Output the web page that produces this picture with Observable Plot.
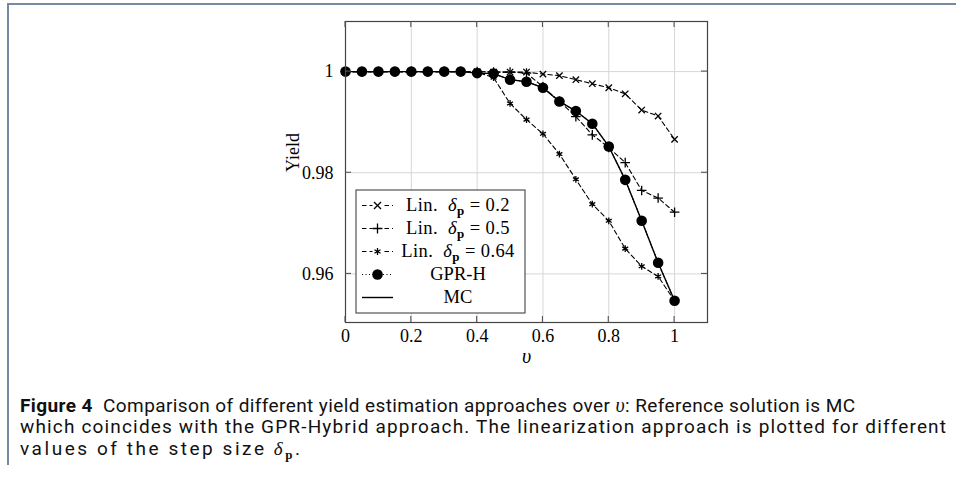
<!DOCTYPE html>
<html>
<head>
<meta charset="utf-8">
<script src="https://cdn.jsdelivr.net/npm/d3@7"></script>
<script src="https://cdn.jsdelivr.net/npm/@observablehq/plot@0.6"></script>
<style>
  html, body { margin: 0; padding: 0; background: #fff; width: 956px; height: 493px; overflow: hidden; }
  #border { position: absolute; left: 7px; top: 3px; width: 960px; height: 460px;
            border-top: 2px solid #7589a3; border-left: 2px solid #7589a3; }
  #chart { position: absolute; left: 0; top: 0; }
  #caption { position: absolute; left: 0; top: 380px; }
</style>
</head>
<body>
<div id="border"></div>
<div id="chart"></div>
<svg id="caption" width="956" height="100"></svg>
<script>
const v      = [0, 0.05, 0.1, 0.15, 0.2, 0.25, 0.3, 0.35, 0.4, 0.45, 0.5, 0.55, 0.6, 0.65, 0.7, 0.75, 0.8, 0.85, 0.9, 0.95, 1.0];
const lin02  = [1, 1, 1, 1, 1, 1, 1, 1, 1, 0.9999, 0.9999, 0.9999, 0.9995, 0.9992, 0.9984, 0.9976, 0.9968, 0.9956, 0.9924, 0.9912, 0.9866];
const lin05  = [1, 1, 1, 1, 1, 1, 1, 1, 1, 0.9999, 0.9999, 0.9997, 0.9970, 0.9941, 0.9911, 0.9875, 0.9850, 0.9820, 0.9765, 0.9750, 0.9722];
const lin064 = [1, 1, 1, 1, 1, 1, 1, 1, 0.9999, 0.9988, 0.9937, 0.9905, 0.9877, 0.9837, 0.9787, 0.9738, 0.9705, 0.9650, 0.9615, 0.9595, 0.9547];
const gprH   = [1, 1, 1, 1, 1, 1, 1, 1, 0.9997, 0.9996, 0.9984, 0.9980, 0.9968, 0.9941, 0.9922, 0.9897, 0.9852, 0.9786, 0.9705, 0.9622, 0.9547];
const mc     = [1, 1, 1, 1, 1, 1, 1, 1, 0.9997, 0.9996, 0.9984, 0.9980, 0.9968, 0.9941, 0.9922, 0.9897, 0.9852, 0.9786, 0.9705, 0.9622, 0.9547];
const xTicks = [0, 0.2, 0.4, 0.6, 0.8, 1];
const yTicks = [0.96, 0.98, 1];
const xTickLabels = ["0", "0.2", "0.4", "0.6", "0.8", "1"];
const yTickLabels = ["0.96", "0.98", "1"];
const legendLabels = ["0.2", "0.5", "0.64"];

const rows = (ys) => v.map((x, i) => ({x, y: ys[i]}));
const xDom = [0, 1.1], yDom = [0.9504, 1.0099];

const dash = "4.5,3";
const plot = Plot.plot({
  width: 956, height: 380,
  marginLeft: 345, marginRight: 249, marginTop: 21, marginBottom: 58,
  x: {domain: xDom},
  y: {domain: yDom},
  style: {fontFamily: "Liberation Serif, serif", fontSize: "18px", color: "#000", background: "transparent"},
  marks: [
    Plot.ruleX(xTicks.slice(1), {stroke: "#d6d6d6", strokeWidth: 1}),
    Plot.ruleY(yTicks, {stroke: "#d6d6d6", strokeWidth: 1}),
    Plot.axisX({ticks: xTicks, tickSize: 0, tickPadding: 7, tickFormat: (d, i) => xTickLabels[i], fontSize: 18, label: null}),
    Plot.axisY({ticks: yTicks, tickSize: 0, tickPadding: 12, tickFormat: (d, i) => yTickLabels[i], fontSize: 18, label: null}),
    Plot.text(["Yield"], {frameAnchor: "left", dx: -52, rotate: -90, fontSize: 18}),
    Plot.text(["υ"], {frameAnchor: "bottom", dy: 40, fontSize: 20, fontStyle: "italic"}),
    Plot.line(rows(lin02), {x: "x", y: "y", stroke: "#000", strokeWidth: 1.1, strokeDasharray: dash}),
    Plot.dot(rows(lin02), {x: "x", y: "y", symbol: "times", r: 3.0, stroke: "#000", strokeWidth: 1.3}),
    Plot.line(rows(lin05), {x: "x", y: "y", stroke: "#000", strokeWidth: 1.1, strokeDasharray: dash}),
    Plot.dot(rows(lin05), {x: "x", y: "y", symbol: "plus", r: 3.2, stroke: "#000", strokeWidth: 1.3}),
    Plot.line(rows(lin064), {x: "x", y: "y", stroke: "#000", strokeWidth: 1.1, strokeDasharray: dash}),
    Plot.dot(rows(lin064), {x: "x", y: "y", symbol: "asterisk", r: 3.2, stroke: "#000", strokeWidth: 1.3}),
    Plot.line(rows(gprH), {x: "x", y: "y", stroke: "#000", strokeWidth: 1.1, strokeDasharray: "1,2.5"}),
    Plot.line(rows(mc), {x: "x", y: "y", stroke: "#000", strokeWidth: 1.4}),
    Plot.dot(rows(gprH), {x: "x", y: "y", r: 5.3, fill: "#000", stroke: "none"}),
    Plot.frame({stroke: "#444", strokeWidth: 1.2})
  ]
});
document.getElementById("chart").appendChild(plot);

// inward tick marks on all four sides
const sx = plot.scale("x"), sy = plot.scale("y");
const svg = d3.select(plot);
const L = sx.apply(xDom[0]), R = sx.apply(xDom[1]), T = sy.apply(yDom[1]), B = sy.apply(yDom[0]);
const tg = svg.append("g").attr("stroke", "#555").attr("stroke-width", 1.1);
xTicks.forEach(t => {
  const x = sx.apply(t);
  tg.append("line").attr("x1", x).attr("x2", x).attr("y1", B).attr("y2", B - 6);
  tg.append("line").attr("x1", x).attr("x2", x).attr("y1", T).attr("y2", T + 6);
});
yTicks.forEach(t => {
  const y = sy.apply(t);
  tg.append("line").attr("x1", L).attr("x2", L + 6).attr("y1", y).attr("y2", y);
  tg.append("line").attr("x1", R).attr("x2", R - 6).attr("y1", y).attr("y2", y);
});

// legend box
const lg = svg.append("g").attr("font-family", "Liberation Serif, serif").attr("font-size", 18.5);
lg.append("rect").attr("x", 356).attr("y", 190).attr("width", 169).attr("height", 123)
  .attr("fill", "#fff").attr("stroke", "#444").attr("stroke-width", 1.1);
const rowY = [205.5, 228.5, 251.5, 274.5, 297.5];
const syms = [d3.symbolTimes, d3.symbolPlus, d3.symbolAsterisk];
const sx0 = 362, sx1 = 393, cx = 377.5, textX = 458;
for (let i = 0; i < 3; i++) {
  const y = rowY[i];
  lg.append("line").attr("x1", sx0).attr("x2", sx1).attr("y1", y).attr("y2", y)
    .attr("stroke", "#000").attr("stroke-width", 1.1).attr("stroke-dasharray", dash);
  lg.append("rect").attr("x", cx - 5).attr("y", y - 5).attr("width", 10).attr("height", 10).attr("fill", "#fff");
  lg.append("path").attr("d", d3.symbol(syms[i], 34)()).attr("transform", `translate(${cx},${y})`)
    .attr("stroke", "#000").attr("stroke-width", 1.3).attr("fill", "none");
  const t = lg.append("text").attr("x", textX).attr("y", y).attr("dy", "0.32em").attr("text-anchor", "middle")
    .attr("letter-spacing", 0.4);
  t.append("tspan").text("Lin.\u00a0 ");
  t.append("tspan").attr("font-style", "italic").text("δ");
  t.append("tspan").attr("font-weight", "bold").attr("font-size", 13).attr("dy", 4).text("p");
  t.append("tspan").attr("dy", -4).text(" = " + legendLabels[i]);
}
// GPR-H
lg.append("line").attr("x1", sx0).attr("x2", sx1).attr("y1", rowY[3]).attr("y2", rowY[3])
  .attr("stroke", "#000").attr("stroke-width", 1.1).attr("stroke-dasharray", "1,2.5");
lg.append("circle").attr("cx", cx).attr("cy", rowY[3]).attr("r", 5.3).attr("fill", "#000");
lg.append("text").attr("x", textX).attr("y", rowY[3]).attr("dy", "0.32em").attr("text-anchor", "middle").text("GPR-H");
// MC
lg.append("line").attr("x1", sx0).attr("x2", sx1).attr("y1", rowY[4]).attr("y2", rowY[4])
  .attr("stroke", "#000").attr("stroke-width", 1.4);
lg.append("text").attr("x", textX).attr("y", rowY[4]).attr("dy", "0.32em").attr("text-anchor", "middle").text("MC");

// caption (three lines, each stretched to its width in the reference)
const cap = d3.select("#caption").attr("font-family", "Roboto, sans-serif").attr("font-size", 19).attr("fill", "#111");
const c1 = cap.append("text").attr("x", 20).attr("y", 32).attr("textLength", 835).attr("lengthAdjust", "spacing");
c1.append("tspan").attr("font-weight", "bold").text("Figure 4");
c1.append("tspan").text("\u00a0 Comparison of different yield estimation approaches over ");
c1.append("tspan").attr("font-family", "Liberation Serif, serif").attr("font-style", "italic").attr("font-size", 20).text("υ");
c1.append("tspan").text(": Reference solution is MC");
cap.append("text").attr("x", 20).attr("y", 53).attr("textLength", 926).attr("lengthAdjust", "spacing")
  .text("which coincides with the GPR-Hybrid approach. The linearization approach is plotted for different");
const c3 = cap.append("text").attr("x", 20).attr("y", 75).attr("textLength", 280).attr("lengthAdjust", "spacing");
c3.append("tspan").text("values of the step size ");
c3.append("tspan").attr("font-family", "Liberation Serif, serif").attr("font-style", "italic").attr("font-size", 19).text("δ");
c3.append("tspan").attr("font-family", "Liberation Serif, serif").attr("font-weight", "bold").attr("font-size", 13).attr("dy", 4).text("p");
c3.append("tspan").attr("dy", -4).text(".");
</script>
</body>
</html>
